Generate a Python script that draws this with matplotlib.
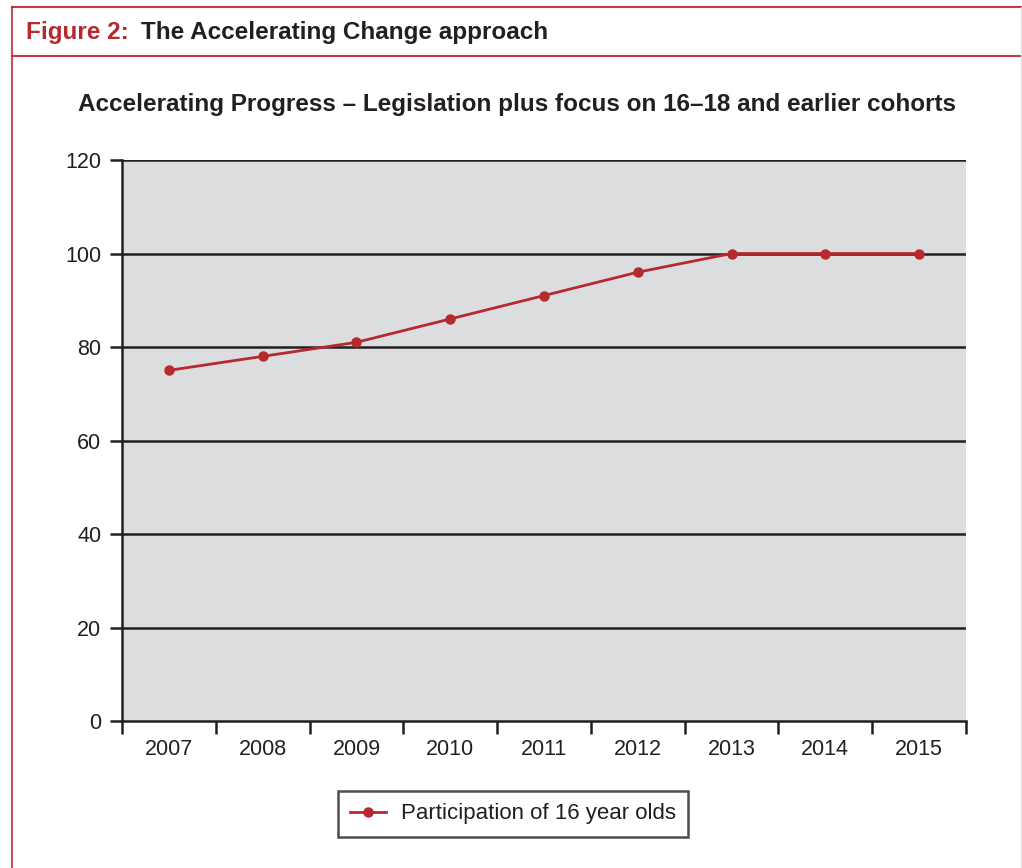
import matplotlib.pyplot as plt
from matplotlib.lines import Line2D
import numpy as np

plt.rcParams['font.family'] = ['Liberation Sans', 'DejaVu Sans']

# data
years = ["2007", "2008", "2009", "2010", "2011", "2012", "2013", "2014", "2015"]
participation = [75, 78, 81, 86, 91, 96, 100, 100, 100]
y_ticks = [0, 20, 40, 60, 80, 100, 120]

RED = "#b8282f"
BG = "#dcdddf"
W, H = 1022, 868

fig = plt.figure(figsize=(W / 100, H / 100), dpi=100)

# frame around the figure (red lines)
fig.add_artist(Line2D([12 / W, 12 / W], [0, 1 - 7 / H], color=RED, lw=1.5, alpha=0.8))
fig.add_artist(Line2D([12 / W, 1], [1 - 7 / H, 1 - 7 / H], color=RED, lw=1.5, alpha=0.9))
fig.add_artist(Line2D([12 / W, 1], [1 - 56 / H, 1 - 56 / H], color=RED, lw=1.5, alpha=0.9))
fig.add_artist(Line2D([1020.5 / W, 1020.5 / W], [0, 1 - 7 / H], color="#dddddd", lw=0.8))

fig.text(26 / W, 1 - 33 / H, "Figure 2:", color=RED, fontsize=17.5, fontweight="bold", va="center")
fig.text(141 / W, 1 - 33 / H, "The Accelerating Change approach", color="#231f20",
         fontsize=17.5, fontweight="bold", va="center")
fig.text(517 / W, 1 - 104 / H, "Accelerating Progress \u2013 Legislation plus focus on 16\u201318 and earlier cohorts",
         color="#231f20", fontsize=17.5, fontweight="bold", ha="center", va="center")

ax = fig.add_axes([122 / W, 1 - 721 / H, 844 / W, 561 / H])
ax.set_facecolor(BG)

x = np.arange(len(years))
ax.plot(x, participation, color=RED, lw=2, marker="o", markersize=6.5, zorder=3,
        label="Participation of 16 year olds")

ax.set_xlim(-0.5, len(years) - 0.5)
ax.set_ylim(0, 120)
ax.set_yticks(y_ticks)
for v in y_ticks[1:]:
    ax.axhline(v, color="#231f20", lw=1.8, zorder=2)

ax.set_xticks(np.arange(-0.5, len(years), 1))
ax.set_xticklabels([])
ax.set_xticks(x, minor=True)
ax.set_xticklabels(years, minor=True)
ax.tick_params(axis="x", which="major", length=9, width=1.8, color="#231f20")
ax.tick_params(axis="x", which="minor", length=0, pad=13, labelsize=15.5, labelcolor="#231f20")
ax.tick_params(axis="y", length=9, width=1.8, color="#231f20", pad=6, labelsize=15.5, labelcolor="#231f20")

for s in ["top", "right"]:
    ax.spines[s].set_visible(False)
for s in ["left", "bottom"]:
    ax.spines[s].set_color("#231f20")
    ax.spines[s].set_linewidth(1.8)

leg = fig.legend(loc="center", bbox_to_anchor=(513 / W, 1 - 814 / H), fontsize=16,
                 frameon=True, fancybox=False, handlelength=1.6, borderpad=0.55,
                 handletextpad=0.7, borderaxespad=0)
leg.get_frame().set_edgecolor("#231f20")
leg.get_frame().set_linewidth(1.8)
for t in leg.get_texts():
    t.set_color("#231f20")

fig.savefig("out.png", dpi=100)
